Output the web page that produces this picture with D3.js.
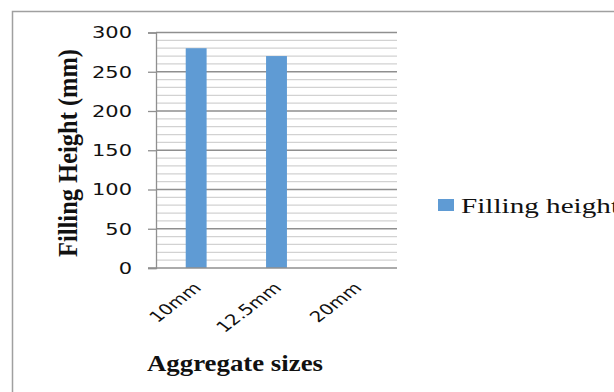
<!DOCTYPE html>
<html>
<head>
<meta charset="utf-8">
<script src="https://cdn.jsdelivr.net/npm/d3@7"></script>
<style>
  html, body { margin: 0; padding: 0; background: #fff; }
  svg { display: block; }
</style>
</head>
<body>
<script>
// Filling height of the mix for each aggregate size
const categories = ["10mm", "12.5mm", "20mm"];
const fillingHeight = [280, 270, 0];
const yTicks = [0, 50, 100, 150, 200, 250, 300];
const seriesName = "Filling height";
const xTitle = "Aggregate sizes";
const yTitle = "Filling Height (mm)";

const W = 614, H = 392;
const plot = { left: 156, right: 397, top: 32.5, bottom: 268 };
const barColor = "#5f9bd4";
const sx = 1.31; // horizontal stretch applied to the labels

const svg = d3.select("body").append("svg")
  .attr("width", W).attr("height", H);

// chart frame
svg.append("path")
  .attr("d", `M12.5,${H} L12.5,11.5 L${W},11.5`)
  .attr("fill", "none").attr("stroke", "#a0a0a0").attr("stroke-width", 1.5);

const x = d3.scaleBand().domain(categories)
  .range([plot.left, plot.right]).paddingInner(0.74).paddingOuter(0.37);
const y = d3.scaleLinear().domain([0, 300]).range([plot.bottom, plot.top]);

// minor gridlines every 10
svg.append("g").selectAll("line")
  .data(d3.range(10, 300, 10).filter(v => v % 50 !== 0))
  .join("line")
  .attr("x1", plot.left).attr("x2", plot.right)
  .attr("y1", d => y(d)).attr("y2", d => y(d))
  .attr("stroke", "#d2d2d2").attr("stroke-width", 1.3);

// major gridlines
svg.append("g").selectAll("line")
  .data(yTicks.filter(v => v > 0))
  .join("line")
  .attr("x1", plot.left).attr("x2", plot.right)
  .attr("y1", d => y(d)).attr("y2", d => y(d))
  .attr("stroke", "#8f8f8f").attr("stroke-width", 1.3);

// bars
svg.append("g").selectAll("rect")
  .data(categories.map((c, i) => ({ c, v: fillingHeight[i] })))
  .join("rect")
  .attr("x", d => x(d.c))
  .attr("width", x.bandwidth())
  .attr("y", d => y(d.v))
  .attr("height", d => y(0) - y(d.v))
  .attr("fill", barColor);

// y axis
const yAxis = svg.append("g")
  .attr("transform", `translate(${plot.left},0)`)
  .call(d3.axisLeft(y).tickValues(yTicks).tickSize(8).tickFormat(""));
yAxis.select(".domain").attr("stroke", "#8f8f8f").attr("stroke-width", 1.3);
yAxis.selectAll(".tick line").attr("stroke", "#8f8f8f").attr("stroke-width", 1.3);

// x axis baseline
svg.append("line")
  .attr("x1", plot.left - 8).attr("x2", plot.right)
  .attr("y1", y(0)).attr("y2", y(0))
  .attr("stroke", "#8f8f8f").attr("stroke-width", 1.3);

// y tick labels
svg.append("g").selectAll("text")
  .data(yTicks).join("text")
  .attr("transform", d => `translate(132,${y(d) + 5.8}) scale(${sx},1)`)
  .attr("text-anchor", "end")
  .attr("font-family", "DejaVu Sans, Verdana, sans-serif")
  .attr("font-size", 16)
  .attr("fill", "#111")
  .text(d => d);

// x tick labels, slanted
svg.append("g").selectAll("text")
  .data(categories).join("text")
  .attr("transform", d => `translate(${x(d) + x.bandwidth() / 2 + 6},${y(0) + 21}) scale(${sx},1) rotate(-45)`)
  .attr("text-anchor", "end")
  .attr("font-family", "DejaVu Sans, Verdana, sans-serif")
  .attr("font-size", 15)
  .attr("fill", "#111")
  .text(d => d);

// axis titles
svg.append("text")
  .attr("x", 147).attr("y", 371)
  .attr("textLength", 176).attr("lengthAdjust", "spacingAndGlyphs")
  .attr("font-family", "Liberation Serif, Times New Roman, serif")
  .attr("font-weight", "bold").attr("font-size", 24)
  .attr("fill", "#111")
  .text(xTitle);

svg.append("text")
  .attr("transform", `translate(77,153) scale(1.3,1) rotate(-90)`)
  .attr("text-anchor", "middle")
  .attr("textLength", 208).attr("lengthAdjust", "spacingAndGlyphs")
  .attr("font-family", "Liberation Serif, Times New Roman, serif")
  .attr("font-weight", "bold").attr("font-size", 21)
  .attr("fill", "#111")
  .text(yTitle);

// legend
const legend = svg.append("g");
legend.append("rect")
  .attr("x", 438).attr("y", 199).attr("width", 16).attr("height", 12)
  .attr("fill", barColor);
legend.append("text")
  .attr("x", 461).attr("y", 212.5)
  .attr("textLength", 158).attr("lengthAdjust", "spacingAndGlyphs")
  .attr("font-family", "Liberation Serif, Times New Roman, serif")
  .attr("font-size", 21)
  .attr("fill", "#111")
  .text(seriesName);
</script>
</body>
</html>
